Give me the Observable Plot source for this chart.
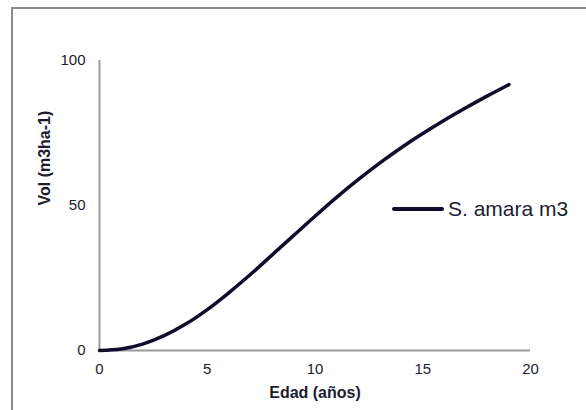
<!DOCTYPE html>
<html>
<head>
<meta charset="utf-8">
<script src="https://cdn.jsdelivr.net/npm/d3@7"></script>
<script src="https://cdn.jsdelivr.net/npm/@observablehq/plot@0.6"></script>
<style>
  html, body { margin: 0; padding: 0; background: #fff; overflow: hidden; }
  #wrap { position: relative; width: 586px; height: 410px; overflow: hidden; font-family: "Liberation Sans", Arial, sans-serif; }
  #frame { position: absolute; left: 11px; top: 7px; width: 700px; height: 600px; border: 2px solid #8c8c8c; pointer-events: none; }
  #legend { position: absolute; left: 392px; top: 197px; display: flex; align-items: center; color: #1c1c2e; font-size: 21px; white-space: nowrap; }
  #legend .sw { display: inline-block; width: 52px; height: 4px; border-radius: 2px; background: #0f0c2c; margin-right: 4px; }
</style>
</head>
<body>
<div id="wrap">
  <div id="chart"></div>
  <div id="frame"></div>
  <div id="legend"><span class="sw"></span><span id="legtext"></span></div>
</div>
<script>
// Data
const ages = [0, 1, 2, 3, 4, 5, 6, 7, 8, 9, 10, 11, 12, 13, 14, 15, 16, 17, 18, 19];
const volumes = [0, 0.5, 2.2, 5.1, 9.1, 14.1, 19.9, 26.2, 32.9, 39.6, 46.3, 52.8, 58.9, 64.6, 69.9, 74.8, 79.4, 83.7, 87.8, 91.7];
const seriesName = "S. amara m3";
const xTicks = [0, 5, 10, 15, 20];
const yTicks = [0, 50, 100];
const xTitle = "Edad (años)";
const yTitle = "Vol (m3ha-1)";

const data = ages.map((a, i) => ({age: a, vol: volumes[i]}));

const chart = Plot.plot({
  width: 586,
  height: 410,
  marginLeft: 99,
  marginRight: 56,
  marginTop: 60,
  marginBottom: 60,
  style: {fontFamily: "'Liberation Sans', Arial, sans-serif", fontSize: "15px", color: "#1c1c2e", background: "transparent"},
  x: {domain: [0, 20]},
  y: {domain: [0, 100]},
  marks: [
    Plot.axisX({ticks: xTicks, tickSize: 0, tickPadding: 13, label: null, fontSize: 15, tickFormat: d => String(d)}),
    Plot.axisY({ticks: yTicks, tickSize: 0, tickPadding: 14, label: null, fontSize: 15, tickFormat: d => String(d)}),
    Plot.ruleY([0], {stroke: "#999999", strokeWidth: 2}),
    Plot.ruleX([0], {stroke: "#999999", strokeWidth: 2}),
    Plot.line(data, {x: "age", y: "vol", stroke: "#0f0c2c", strokeWidth: 3.5, curve: "monotone-x"}),
    Plot.text([xTitle], {frameAnchor: "bottom", lineAnchor: "middle", dy: 42, fontWeight: "bold", fontSize: 16, fill: "#1c1c2e"}),
    Plot.text([yTitle], {frameAnchor: "left", lineAnchor: "middle", dx: -55, rotate: -90, fontWeight: "bold", fontSize: 16, fill: "#1c1c2e"})
  ]
});
document.getElementById("chart").appendChild(chart);
document.getElementById("legtext").textContent = seriesName;
</script>
</body>
</html>
